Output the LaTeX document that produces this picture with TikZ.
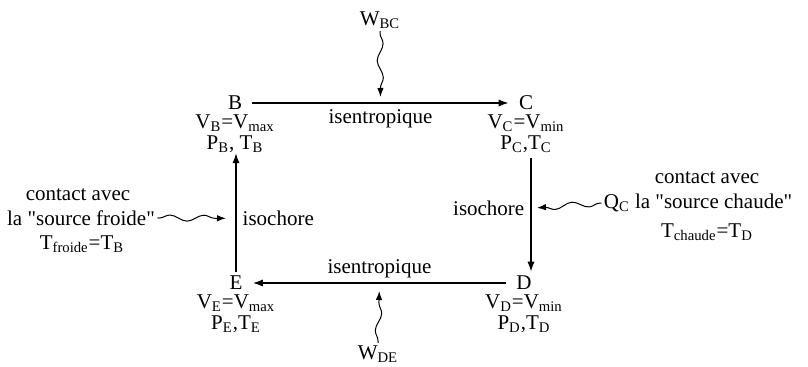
\documentclass[tikz,border=0pt]{standalone}
\usepackage{fontspec}
\newfontfamily\timesnr{Liberation Serif}
\usetikzlibrary{arrows.meta,positioning,decorations.pathmorphing}

\tikzset{
  etat/.style={inner sep=2pt,font=\timesnr\fontsize{10.5}{11}\selectfont},
  infos/.style={inner sep=0pt,align=center,font=\timesnr\fontsize{10.5}{10.5}\selectfont},
  txt/.style={inner sep=1pt,font=\timesnr\fontsize{10.5}{11}\selectfont},
  trans/.style={line width=0.7pt,-{Latex[length=5pt,width=3.6pt]}},
  echange/.style={line width=0.5pt,-{Latex[length=4.5pt,width=3.2pt]},
    decorate,decoration={snake,amplitude=1.5pt,segment length=17pt,
    pre length=1pt,post length=5pt}},
}
\newcommand{\ind}[1]{\textsubscript{#1}}

\begin{document}
\begin{tikzpicture}[x=0.5pt,y=-0.5pt]
  \useasboundingbox (0,0) rectangle (808,367);
  % les quatre etats
  \node[etat] (B) at (235,103) {B};
  \node[etat] (C) at (526,103) {C};
  \node[etat] (D) at (524,283) {D};
  \node[etat] (E) at (236,283) {E};
  \node[infos,below=0pt of B] (Bi) {V\ind{B}=V\ind{max}\\P\ind{B}, T\ind{B}};
  \node[infos,below=0pt of C] (Ci) {V\ind{C}=V\ind{min}\\P\ind{C},T\ind{C}};
  \node[infos,below=0pt of D] (Di) {V\ind{D}=V\ind{min}\\P\ind{D},T\ind{D}};
  \node[infos,below=0pt of E] (Ei) {V\ind{E}=V\ind{max}\\P\ind{E},T\ind{E}};
  % le cycle
  \draw[trans,shorten <=3pt,shorten >=3pt] (B) -- (C)
    node[txt,midway,below=2pt] {isentropique} coordinate[midway] (mBC);
  \draw[trans] (Ci.south) ++(5,5) coordinate (hCD) -- (hCD |- D.north)
    node[txt,pos=0.44,left=2pt] {isochore} coordinate[pos=0.44] (mCD);
  \draw[trans,shorten <=3pt,shorten >=3pt] (D) -- (E)
    node[txt,midway,above=1pt] {isentropique} coordinate[midway] (mDE);
  \draw[trans] (E.north) -- (E.north |- Bi.south)
    node[txt,pos=0.45,right=2pt] {isochore} coordinate[pos=0.45] (mEB);
  % travail et chaleur echanges
  \node[txt] (Wbc) at (380,20) {W\ind{BC}};
  \node[txt] (Wde) at (378,354) {W\ind{DE}};
  \node[txt] (froid1) at (78,195) {contact avec};
  \node[txt] (froid2) at (81,218) {la "source froide"};
  \node[txt] (froid3) at (82,244) {T\ind{froide}=T\ind{B}};
  \node[txt] (chaud1) at (707,178) {contact avec};
  \node[txt] (chaud2) at (698,203) {Q\ind{C} la "source chaude"};
  \node[txt] (chaud3) at (707,232) {T\ind{chaude}=T\ind{D}};
  \draw[echange,shorten >=3pt] (Wbc.south) -- (mBC);
  \draw[echange,shorten >=4pt] (Wde.north) -- (mDE);
  \draw[echange,shorten >=5pt] (froid2.east) -- (mEB);
  \draw[echange,shorten >=3pt] (chaud2.west) -- (mCD);
\end{tikzpicture}
\end{document}
